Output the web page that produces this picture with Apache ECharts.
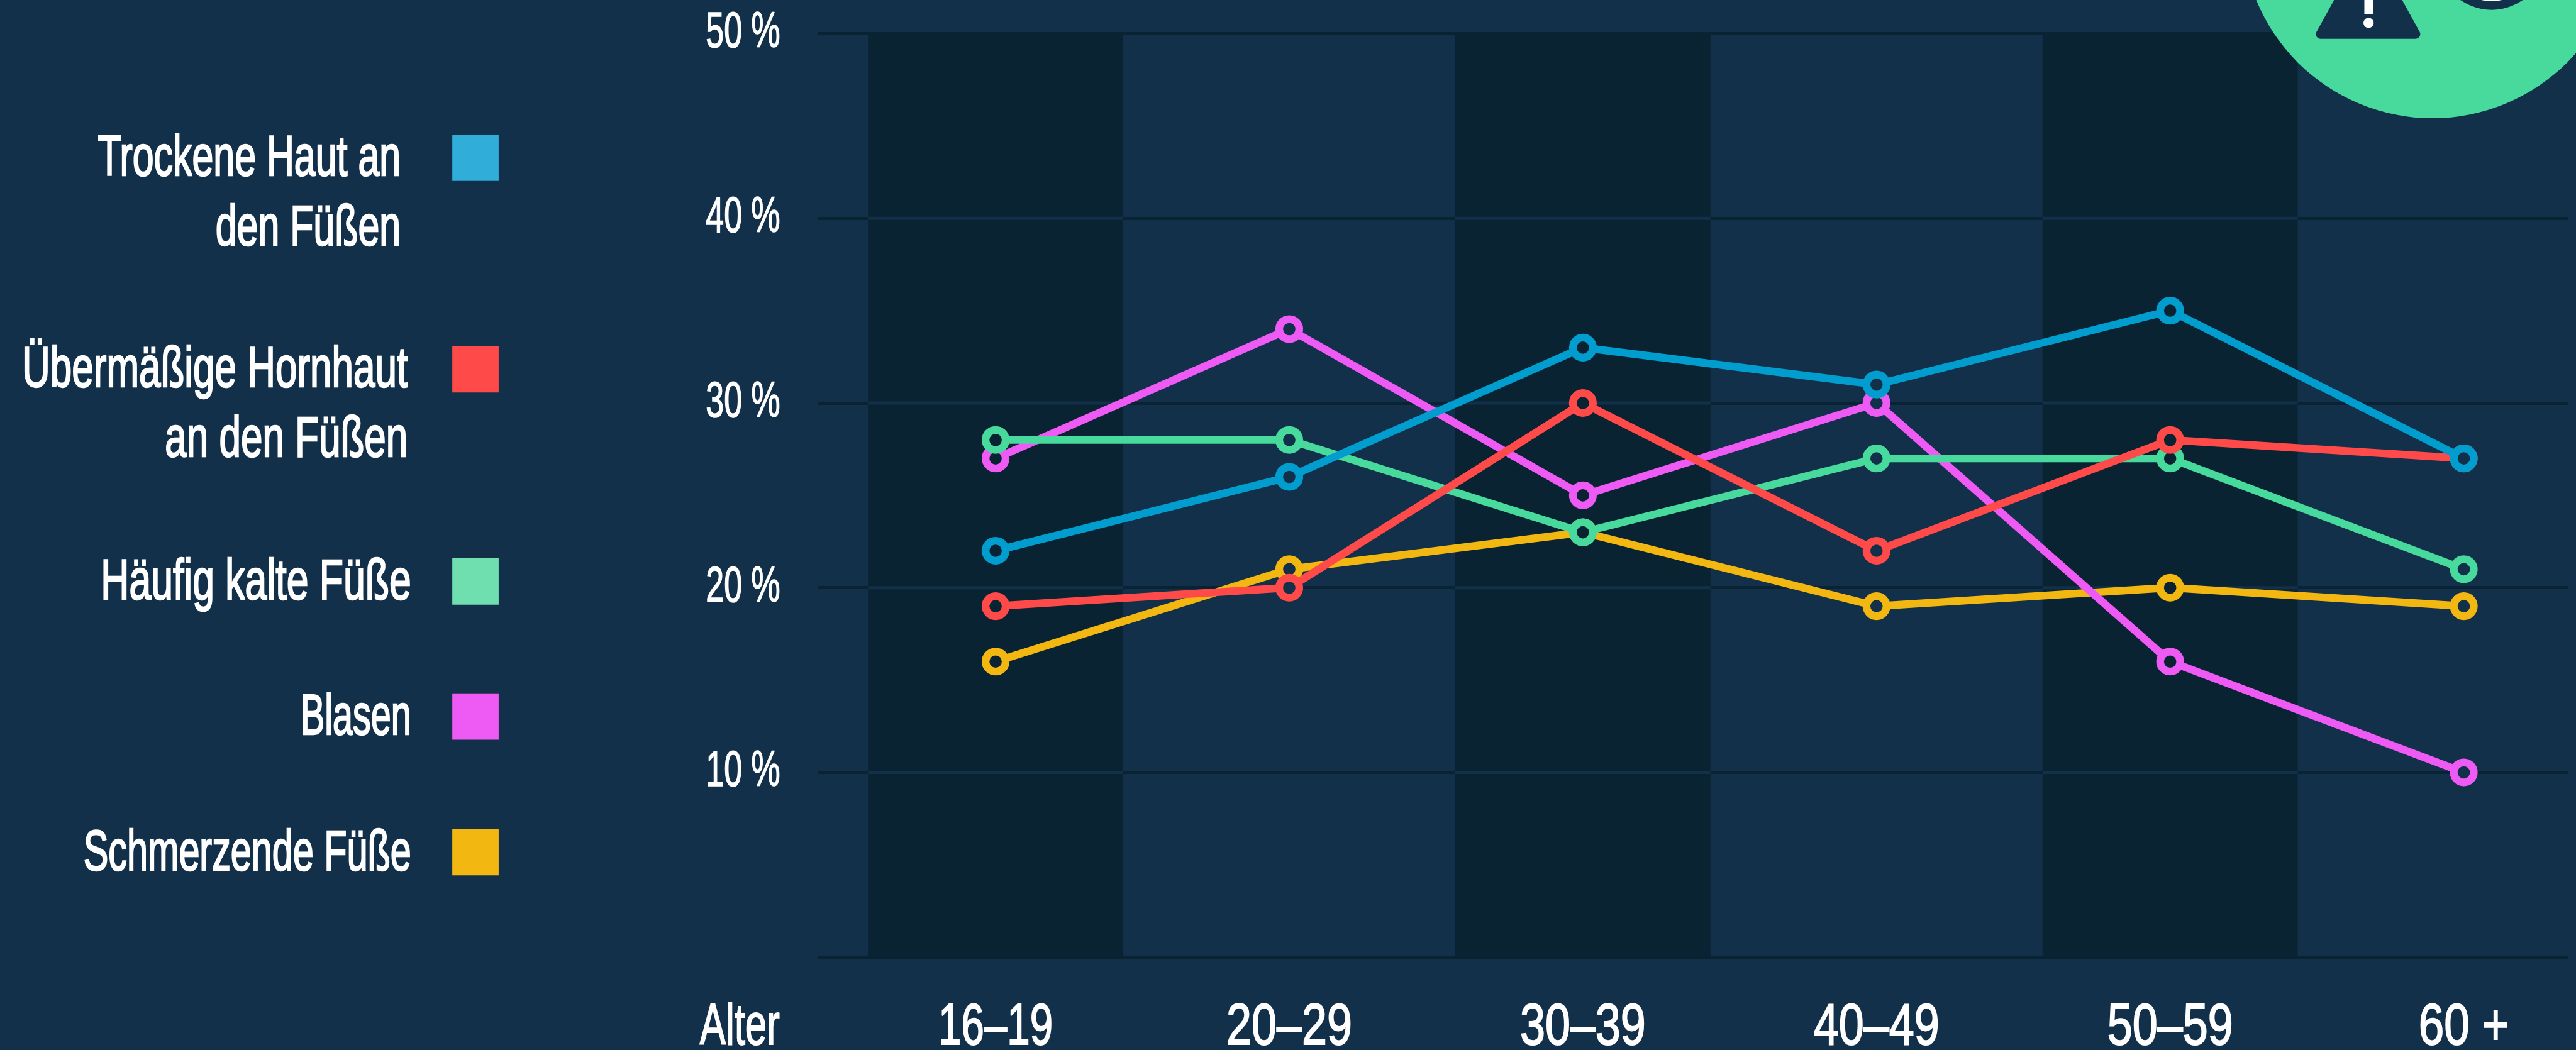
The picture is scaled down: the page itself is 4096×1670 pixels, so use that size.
<!DOCTYPE html>
<html><head><meta charset="utf-8">
<style>html,body{margin:0;padding:0;background:#13304A;overflow:hidden}#c{width:4096px;height:1670px}</style>
<script src="https://cdn.jsdelivr.net/npm/echarts@6/dist/echarts.min.js"></script>
</head><body><div id="c"></div>
<script>
const ageGroups = ['16–19','20–29','30–39','40–49','50–59','60 +'];
const trockeneHaut = [22,26,33,31,35,27];
const hornhaut = [19,20,30,22,28,27];
const kalteFuesse = [28,28,23,27,27,21];
const blasen = [27,34,25,30,16,10];
const schmerzendeFuesse = [16,21,23,19,20,19];
const seriesNames = ['Trockene Haut an den Füßen','Übermäßige Hornhaut an den Füßen','Häufig kalte Füße','Blasen','Schmerzende Füße'];
const legendLabels = ['\nTrockene Haut an\nden Füßen','\nÜbermäßige Hornhaut\nan den Füßen','Häufig kalte Füße','Blasen','Schmerzende Füße'];
const seriesValues = [trockeneHaut,hornhaut,kalteFuesse,blasen,schmerzendeFuesse];
const lineColors = ['#009DCE','#FF4A4A','#48D99C','#EE5AF4','#F3B712'];
const legendColors = ['#31ADD9','#FF4A4A','#6FDFB0','#EE5AF4','#F3B712'];
const darkBandGroups = ['16–19','30–39','50–59'];
const innerGridValues = [10,20,30,40];

const S = 0.922;
const FONT = '"Liberation Sans",Arial,sans-serif';
const BG = '#13304A', DARK = '#0A2333';
const px = v => v * S;

const legendCentres = [272,637,1003,1236,1470];
const legendTextRight = [691,703,709,709,709];
const legendSqueeze = [0.667,0.679,0.685,0.63,0.65];
const LEG_FS = px(99), LEG_LH = px(120);

const legends = seriesNames.map((name,i)=>{
  const twoLines = legendLabels[i].indexOf('\n')>=0;
  const padR = (px(780) - px(legendTextRight[i]) - 5) / legendSqueeze[i];
  return {
    data:[{name, icon:'rect', itemStyle:{color:legendColors[i],borderWidth:0}}],
    formatter:()=>legendLabels[i],
    selectedMode:false, orient:'vertical', align:'right', padding:0,
    right: 4096 - px(860),
    top: px(legendCentres[i]) - (twoLines ? 1.5*LEG_LH : 0.5*LEG_LH),
    itemWidth:px(80), itemHeight:px(80),
    textStyle:{color:'#fff',fontFamily:FONT,fontSize:LEG_FS,lineHeight:LEG_LH,
      textBorderColor:'#fff',textBorderWidth:2.5,padding:[0,padR,0,0]}
  };
});

const bandSeries = {
  type:'custom', xAxisIndex:1, yAxisIndex:1, z:1, silent:true, clip:false,
  data: darkBandGroups.map(g=>[ageGroups.indexOf(g)]),
  renderItem:(params,api)=>{
    const cx = api.coord([api.value(0),0])[0];
    const top = api.coord([api.value(0),50])[1], bottom = api.coord([api.value(0),0])[1];
    const w = px(440), lw = px(5.5);
    const children = [{type:'rect',shape:{x:cx-w/2,y:top-lw/2,width:w,height:bottom-top+lw},style:{fill:DARK}}];
    innerGridValues.forEach(v=>{
      const y = api.coord([api.value(0),v])[1];
      children.push({type:'rect',shape:{x:cx-w/2,y:y-lw/2,width:w,height:lw},style:{fill:BG}});
    });
    return {type:'group',children};
  },
  encode:{x:0}
};

const lineSeries = seriesNames.map((name,i)=>({
  name, type:'line', xAxisIndex:1, yAxisIndex:1, z:10-i,
  symbol:'circle', symbolSize:px(34.6), showSymbol:true, showAllSymbol:true,
  lineStyle:{color:lineColors[i],width:px(13.3),cap:'butt'},
  itemStyle:{color:lineColors[i]},
  emphasis:{disabled:true},
  data: seriesValues[i].map((v,k)=>({
    value:v,
    itemStyle:{color: darkBandGroups.includes(ageGroups[k]) ? DARK : BG, borderColor:lineColors[i], borderWidth:px(13.3)}
  }))
}));

const option = {
  animation:false, backgroundColor:BG,
  legend: legends,
  grid:[
    {left:px(1410.6), right:4096-px(4429), top:px(58), height:px(1593), outerBoundsMode:'none', containLabel:false},
    {left:px(1717), right:4096-px(4249), top:px(58), height:px(1593), outerBoundsMode:'none', containLabel:false}
  ],
  xAxis:[
    {gridIndex:0,type:'value',min:0,max:1,offset:px(115)+7,position:'bottom',
      axisLine:{show:false,onZero:false},axisTick:{show:false},axisLabel:{show:false},splitLine:{show:false},
      name:'Alter',nameLocation:'start',nameGap:px(66),
      nameTextStyle:{color:'#fff',fontFamily:FONT,fontSize:px(100),align:'right',verticalAlign:'middle',textBorderColor:'#fff',textBorderWidth:2}},
    {gridIndex:1,type:'category',boundaryGap:false,data:ageGroups,
      axisLine:{show:false,onZero:false},axisTick:{show:false},splitLine:{show:false},
      axisLabel:{color:'#fff',fontFamily:FONT,fontSize:px(100),margin:px(72)+1,interval:0,showMinLabel:true,showMaxLabel:true,textBorderColor:'#fff',textBorderWidth:2}}
  ],
  yAxis:[
    {gridIndex:0,type:'value',min:0,max:50,interval:10,
      axisLine:{show:false},axisTick:{show:false},
      splitLine:{show:true,lineStyle:{color:DARK,width:px(5.5)}},
      axisLabel:{color:'#fff',fontFamily:FONT,fontSize:px(86.6),margin:px(65),showMinLabel:false,textBorderColor:'#fff',textBorderWidth:1.5,
        formatter:'{value} %'}},
    {gridIndex:1,type:'value',min:0,max:50,interval:10,show:false,splitLine:{show:false}}
  ],
  series:[bandSeries,...lineSeries],
  graphic:{elements:[
    {type:'circle',z:100,silent:true,shape:{cx:px(4195),cy:px(-124.5),r:px(328.5)},style:{fill:'#48D99C'}},
    {type:'polygon',z:101,silent:true,shape:{points:[[px(4084),px(-90)],[px(4002),px(59)],[px(4166),px(59)]]},
      style:{fill:BG,stroke:BG,lineWidth:px(16),lineJoin:'round'}},
    {type:'rect',z:102,silent:true,shape:{x:px(4077.5),y:px(-50),width:px(15),height:px(75)},style:{fill:'#fff'}},
    {type:'ellipse',z:102,silent:true,shape:{cx:px(4084.8),cy:px(39.5),rx:px(8.8),ry:px(8.6)},style:{fill:'#fff'}},
    {type:'circle',z:101,silent:true,shape:{cx:px(4297),cy:px(-77),r:px(94)},style:{fill:BG}},
    {type:'circle',z:102,silent:true,shape:{cx:px(4297),cy:px(-77),r:px(79)},style:{fill:'#fff'}}
  ]}
};

const chart = echarts.init(document.getElementById('c'),null,{renderer:'canvas'});
chart.setOption(option);

// The reference face is narrower than any installed font: narrow each label about its own anchor.
function widthFactor(t){
  const li = legendLabels.indexOf(t);
  if (li >= 0) return legendSqueeze[li];
  if (t === 'Alter') return 0.67;
  if (/%$/.test(t)) return 0.65;
  if (t === '16–19') return 0.71;
  if (t === '60 +') return 0.79;
  return 0.78;
}
const zr = chart.getZr();
zr.storage.getRoots().forEach(function walk(el){
  if (el.type === 'text' && el.style && el.style.text){
    el.originX = el.style.x || 0;
    el.scaleX = widthFactor(el.style.text);
    if (legendLabels.indexOf(el.style.text) >= 0) el.y = (el.y || 0) + 3;
    el.markRedraw();
  }
  if (el.isGroup) el.children().forEach(walk);
});
zr.refreshImmediately();
</script></body></html>
